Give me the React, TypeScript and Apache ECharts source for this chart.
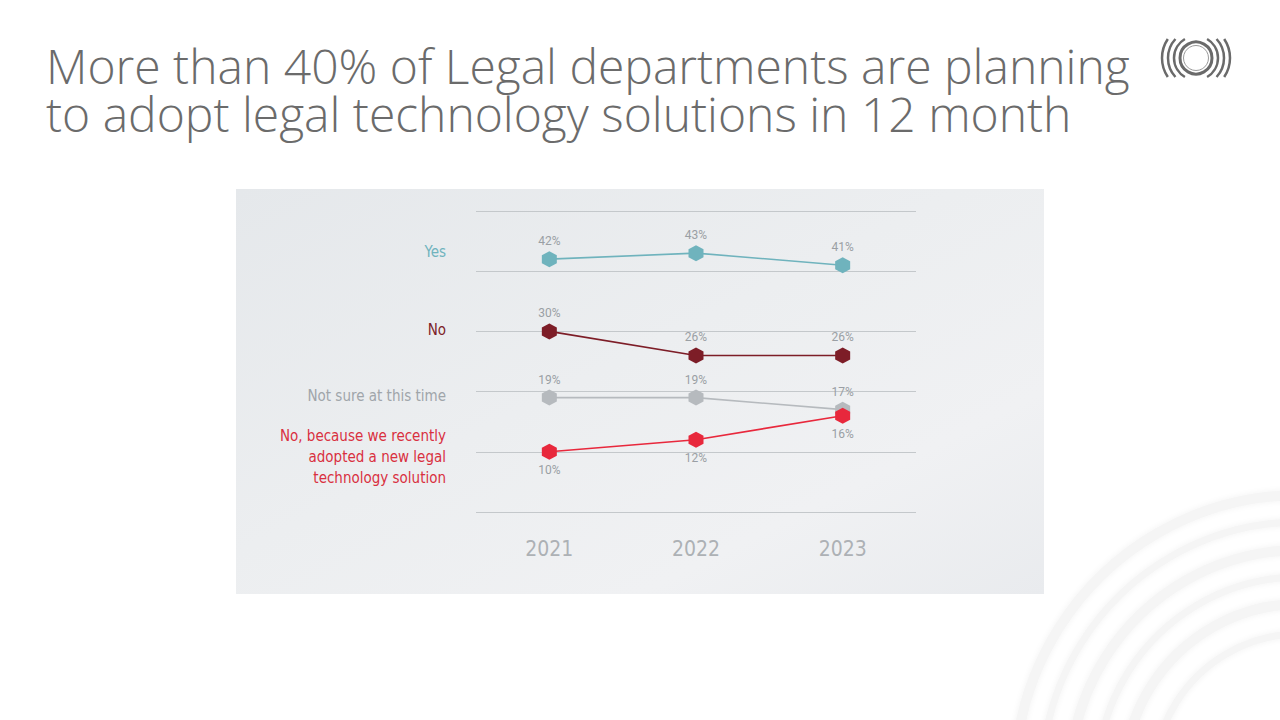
import React, { useEffect, useRef } from "react";
import * as echarts from "echarts";

const years = ["2021", "2022", "2023"];
const yesValues = [42, 43, 41];
const noValues = [30, 26, 26];
const notSureValues = [19, 19, 17];
const recentlyAdoptedValues = [10, 12, 16];
const seriesNames = ["Yes", "No", "Not sure at this time", "No, because we recently\nadopted a new legal\ntechnology solution"];
const titleLines = [
  "More than 40% of Legal departments are planning",
  "to adopt legal technology solutions in 12 month",
];

const HEX = "path://M0,-1 L0.866,-0.5 L0.866,0.5 L0,1 L-0.866,0.5 L-0.866,-0.5 Z";
const NARROW = "'Liberation Sans Narrow', 'DejaVu Sans Condensed', Roboto, sans-serif";

export default function App() {
  const ref = useRef<HTMLDivElement>(null);
  useEffect(() => {
    if (!ref.current) return;
    const chart = echarts.init(ref.current, undefined, { renderer: "svg" });

    const mkSeries = (name: string, data: number[], color: string, pos: string[]) => ({
      name,
      type: "line",
      data: data.map((v, i) => ({
        value: v,
        label: { position: pos[i] },
      })),
      symbol: HEX,
      symbolSize: [15, 16],
      lineStyle: { color, width: 1.6 },
      itemStyle: { color },
      label: {
        show: true,
        formatter: "{c}%",
        color: "#9a9fa4",
        fontFamily: "Roboto, sans-serif",
        fontSize: 12,
        distance: 4,
      },
      z: 3,
    });

    const logoArcs: any[] = [];
    const lcx = 1196, lcy = 58;
    [22, 28, 34].forEach((r) => {
      const a = Math.asin(Math.min(1, 19 / r));
      logoArcs.push({
        type: "arc",
        shape: { cx: lcx, cy: lcy, r, startAngle: Math.PI - a, endAngle: Math.PI + a },
        style: { stroke: "#6a6a6a", lineWidth: 2.5, fill: "none" },
      });
      logoArcs.push({
        type: "arc",
        shape: { cx: lcx, cy: lcy, r, startAngle: -a, endAngle: a },
        style: { stroke: "#6a6a6a", lineWidth: 2.5, fill: "none" },
      });
    });
    logoArcs.push({
      type: "circle",
      shape: { cx: lcx, cy: lcy, r: 16 },
      style: { stroke: "#6a6a6a", lineWidth: 3, fill: "none" },
    });
    logoArcs.push({
      type: "circle",
      shape: { cx: lcx, cy: lcy, r: 12.5 },
      style: { stroke: "#9a9a9a", lineWidth: 1, fill: "none" },
    });

    const decoRings: any[] = [];
    [285, 258, 230, 203, 176, 146].forEach((r, i) => {
      decoRings.push({
        type: "circle",
        shape: { cx: 1300, cy: 780, r },
        style: {
          stroke: "#f5f5f5",
          lineWidth: i % 2 === 0 ? 10 : 7,
          fill: "none",
          shadowBlur: 6,
          shadowColor: "#f3f3f3",
        },
        z: -20,
      });
    });

    const nameColors = ["#6fb3bd", "#7d1d27", "#a0a5aa", "#d9303f"];
    const nameY = [252, 330, 396, 457];

    chart.setOption({
      animation: false,
      backgroundColor: "#ffffff",
      grid: { left: 476, top: 211, width: 440, height: 301, containLabel: false },
      xAxis: {
        type: "category",
        data: years,
        boundaryGap: true,
        axisLine: { show: false },
        axisTick: { show: false },
        axisLabel: {
          color: "#adb1b5",
          fontSize: 21,
          fontWeight: "normal",
          fontFamily: NARROW,
          margin: 26,
        },
        splitLine: { show: false },
      },
      yAxis: {
        type: "value",
        min: 0,
        max: 50,
        interval: 10,
        axisLabel: { show: false },
        axisLine: { show: false },
        axisTick: { show: false },
        splitLine: { show: true, lineStyle: { color: "#c4c8cb", width: 1 } },
      },
      graphic: [
        ...decoRings,
        {
          type: "rect",
          shape: { x: 236, y: 189, width: 808, height: 405 },
          style: {
            fill: {
              type: "linear",
              x: 0, y: 0, x2: 1, y2: 1,
              colorStops: [
                { offset: 0, color: "#e5e8eb" },
                { offset: 0.45, color: "#eceef0" },
                { offset: 0.75, color: "#f0f1f3" },
                { offset: 1, color: "#e9ebee" },
              ],
            },
          },
          z: -10,
        },
        {
          type: "text",
          x: 46,
          y: 41,
          style: {
            text: titleLines.join("\n"),
            fill: "#6b6b6b",
            font: "300 48px 'Open Sans', sans-serif",
            lineHeight: 48,
            verticalAlign: "top",
          },
        },
        ...logoArcs,
        ...seriesNames.map((n, i) => ({
          type: "text",
          x: 446,
          y: nameY[i],
          style: {
            text: n,
            fill: nameColors[i],
            font: `15px ${NARROW}`,
            align: "right",
            verticalAlign: "middle",
            lineHeight: 21,
          },
        })),
      ],
      series: [
        mkSeries(seriesNames[0], yesValues, "#6fb3bd", ["top", "top", "top"]),
        mkSeries(seriesNames[1], noValues, "#7d1d27", ["top", "top", "top"]),
        mkSeries(seriesNames[2], notSureValues, "#b6babe", ["top", "top", "top"]),
        mkSeries(seriesNames[3], recentlyAdoptedValues, "#e8283c", ["bottom", "bottom", "bottom"]),
      ],
    });
    return () => chart.dispose();
  }, []);
  return (
    <div
      ref={ref}
      style={{ position: "fixed", left: 0, top: 0, width: 1280, height: 720 }}
    />
  );
}
